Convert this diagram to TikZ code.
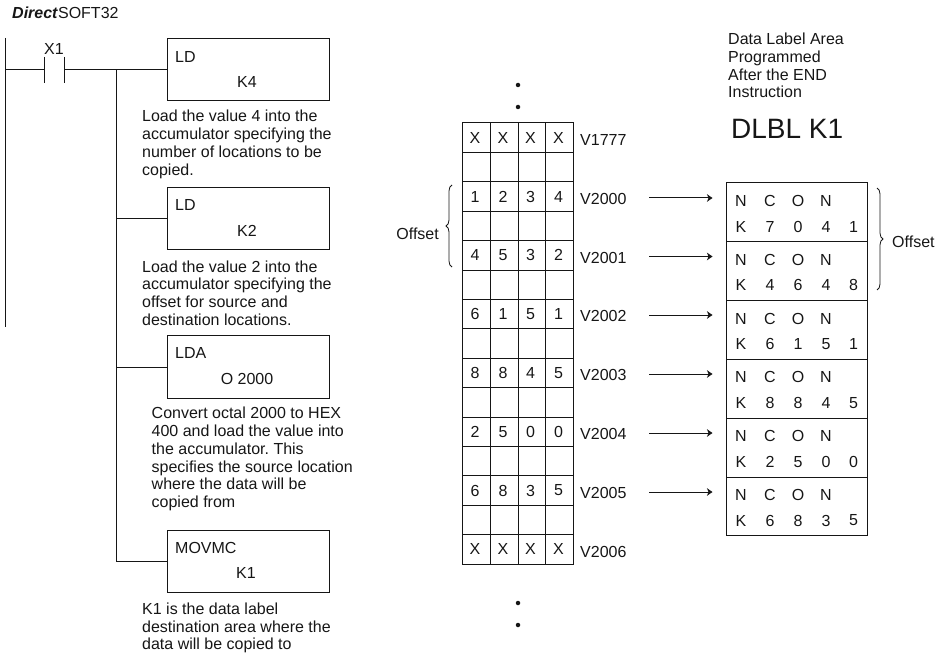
\documentclass[tikz,border=0pt]{standalone}
\usepackage{fontspec}
\setmainfont{Liberation Sans}
\usetikzlibrary{decorations.pathreplacing,arrows.meta}
\definecolor{ink}{HTML}{161616}
\tikzset{
  every node/.style={font=\fontsize{16}{17.8}\selectfont\frenchspacing,text=ink,inner sep=0pt},
  wire/.style={draw=ink,line width=1pt},
  instr/.style={draw=ink,line width=1pt,minimum width=162pt,minimum height=62.5pt},
  note/.style={anchor=west,align=left},
  cell/.style={anchor=center},
  gridline/.style={draw=ink,line width=1pt},
  arrowline/.style={draw=ink,line width=1pt,-{Stealth[length=5.5pt,width=7.5pt,inset=1.5pt]}},
  brace/.style={draw=ink,line width=0.8pt,decorate},
  dotmark/.style={circle,fill=ink,minimum size=4.5pt}
}
\begin{document}
\begin{tikzpicture}[x=1pt,y=-1pt]
\useasboundingbox (0,0) rectangle (937,655);
\node[anchor=west] (title) at (12,13) {\textbf{\textit{Direct}}SOFT32};
% rails
\coordinate (railtop) at (5.7,38);
\coordinate (railbot) at (5.7,327);
\draw[wire] (railtop) -- (railbot);
\coordinate (ca1) at (44.5,57); \coordinate (ca2) at (44.5,83);
\coordinate (cb1) at (64,57); \coordinate (cb2) at (64,83);
\coordinate (ca) at (44.5,69.5); \coordinate (cb) at (64,69.5);
\coordinate (railj) at (5.7,69.5);
\draw[wire] (ca1) -- (ca2);
\draw[wire] (cb1) -- (cb2);
\node (x1) at (54,49) {X1};
\draw[wire] (railj) -- (ca);
% boxes
\node[instr] (b1) at (248,69.5) {};
\node[instr] (b2) at (248,218.5) {};
\node[instr] (b3) at (248,367) {};
\node[instr] (b4) at (248,561.5) {};
\node[anchor=west] (t1) at (175,57) {LD};
\node (v1) at (247,82) {K4};
\node[anchor=west] (t2) at (175,205) {LD};
\node (v2) at (247,230.5) {K2};
\node[anchor=west] (t3) at (175,353) {LDA};
\node (v3) at (247,379) {O 2000};
\node[anchor=west] (t4) at (175,548) {MOVMC};
\node (v4) at (246,572.5) {K1};
\coordinate (bus) at (116,69.5);
\coordinate (j2) at (116,218.5);
\coordinate (j3) at (116,367);
\coordinate (j4) at (116,561.5);
\draw[wire] (cb) -- (b1.west);
\draw[wire] (bus) -- (j4);
\draw[wire] (j2) -- (b2.west);
\draw[wire] (j3) -- (b3.west);
\draw[wire] (j4) -- (b4.west);
\node[note] (n1) at (142,144.5) {Load the value 4 into the\\accumulator specifying the\\number of locations to be\\copied.};
\node[note] (n2) at (142,293) {Load the value 2 into the\\accumulator specifying the\\offset for source and\\destination locations.};
\node[note] (n3) at (151.5,459) {Convert octal 2000 to HEX\\400 and load the value into\\the accumulator. This\\specifies the source location\\where the data will be\\copied from};
\node[note] (n4) at (142,628) {K1 is the data label\\destination area where the\\data will be copied to};
% dots
\node[dotmark] (d1) at (518,85) {};
\node[dotmark] (d2) at (518,107) {};
\node[dotmark] (d3) at (518,603) {};
\node[dotmark] (d4) at (518,625) {};
% memory grid
\draw[gridline] (462,123) rectangle (573,564);
\foreach \x in {490,518,545.5} \draw[gridline] (\x,123) -- (\x,564);
\foreach \i in {1,...,14} \draw[gridline] (462,123+29.4*\i) -- (573,123+29.4*\i);
\foreach \r/\a/\b/\c/\d/\v in {0/X/X/X/X/V1777,2/1/2/3/4/V2000,4/4/5/3/2/V2001,6/6/1/5/1/V2002,8/8/8/4/5/V2003,10/2/5/0/0/V2004,12/6/8/3/5/V2005,14/X/X/X/X/V2006}{
  \node[cell] at (475,137.7+29.4*\r) {\a};
  \node[cell] at (503,137.7+29.4*\r) {\b};
  \node[cell] at (530.5,137.7+29.4*\r) {\c};
  \node[cell] at (558.5,137.7+29.4*\r) {\d};
  \node[anchor=west] at (580,140+29.4*\r) {\v};
}
\node[anchor=east] (offl) at (439,233.5) {Offset};
\draw[brace,decoration={brace,amplitude=6pt}] (452,267) -- (452,185);
% data table
\node[note] (dl) at (728,65.5) {Data Label Area\\Programmed\\After the END\\Instruction};
\node[anchor=west,font=\fontsize{28}{30}\selectfont] (dlbl) at (731,129) {DLBL K1};
\draw[gridline] (726,183) rectangle (867,535.8);
\foreach \i in {1,...,5} \draw[gridline] (726,183+58.8*\i) -- (867,183+58.8*\i);
\foreach \r/\a/\b/\c/\d in {0/7/0/4/1,1/4/6/4/8,2/6/1/5/1,3/8/8/4/5,4/2/5/0/0,5/6/8/3/5}{
  \node[cell] at (741,183+58.8*\r+18) {N};
  \node[cell] at (770,183+58.8*\r+18) {C};
  \node[cell] at (798,183+58.8*\r+18) {O};
  \node[cell] at (826,183+58.8*\r+18) {N};
  \node[cell] at (741,183+58.8*\r+43.5) {K};
  \node[cell] at (770,183+58.8*\r+43.5) {\a};
  \node[cell] at (798,183+58.8*\r+43.5) {\b};
  \node[cell] at (826,183+58.8*\r+43.5) {\c};
  \node[cell] at (853.5,183+58.8*\r+43.5) {\d};
}
\foreach \y/\v in {198/V2000,256.5/V2001,315/V2002,374/V2003,433/V2004,492/V2005}{
  \coordinate (s\v) at (649,\y);
  \coordinate (t\v) at (712.5,\y);
  \draw[arrowline] (s\v) -- (t\v);
}
\node[anchor=west] (offr) at (892,242) {Offset};
\draw[brace,decoration={brace,amplitude=6pt}] (877,188) -- (877,290);
\end{tikzpicture}
\end{document}
